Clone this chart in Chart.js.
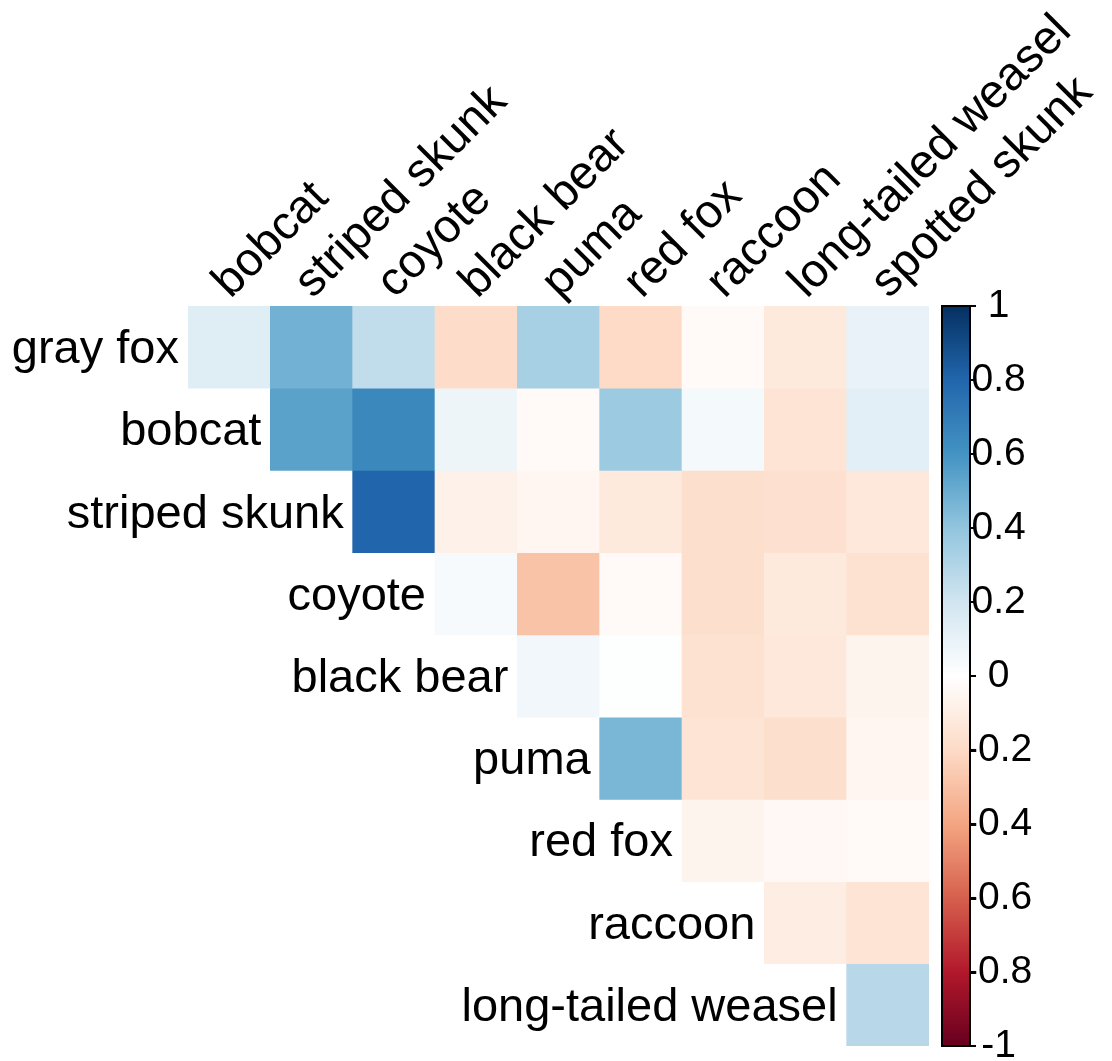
<!DOCTYPE html>
<html>
<head>
<meta charset="utf-8">
<title>Carnivore co-occurrence correlations</title>
<script src="https://cdn.jsdelivr.net/npm/chart.js@4.4.1/dist/chart.umd.min.js"></script>
<style>
  html, body { margin: 0; padding: 0; background: #ffffff; }
  #wrap { width: 1112px; height: 1061px; }
</style>
</head>
<body>
<div id="wrap"><canvas id="corr" width="1112" height="1061"></canvas></div>
<script>
// Species along the top (columns) and down the side (rows) of the upper-triangle matrix
const colSpecies = ['bobcat', 'striped skunk', 'coyote', 'black bear', 'puma', 'red fox', 'raccoon', 'long-tailed weasel', 'spotted skunk'];
const rowSpecies = ['gray fox', 'bobcat', 'striped skunk', 'coyote', 'black bear', 'puma', 'red fox', 'raccoon', 'long-tailed weasel'];

// Pairwise correlations, one array per row species (null = lower triangle, left blank)
const grayFoxCorr      = [0.14, 0.48, 0.25, -0.19, 0.33, -0.20, -0.03, -0.12, 0.10];
const bobcatCorr       = [null, 0.54, 0.65, 0.08, -0.03, 0.37, 0.05, -0.15, 0.12];
const stripedSkunkCorr = [null, null, 0.80, -0.08, -0.05, -0.12, -0.18, -0.17, -0.13];
const coyoteCorr       = [null, null, null, 0.04, -0.29, -0.03, -0.18, -0.12, -0.16];
const blackBearCorr    = [null, null, null, null, 0.06, 0.01, -0.16, -0.13, -0.06];
const pumaCorr         = [null, null, null, null, null, 0.46, -0.15, -0.18, -0.05];
const redFoxCorr       = [null, null, null, null, null, null, -0.06, -0.04, -0.03];
const raccoonCorr      = [null, null, null, null, null, null, null, -0.10, -0.15];
const weaselCorr       = [null, null, null, null, null, null, null, null, 0.28];

const corrRows = [grayFoxCorr, bobcatCorr, stripedSkunkCorr, coyoteCorr, blackBearCorr,
                  pumaCorr, redFoxCorr, raccoonCorr, weaselCorr];

// Colour-bar tick values
const barTicks = [1, 0.8, 0.6, 0.4, 0.2, 0, -0.2, -0.4, -0.6, -0.8, -1];

// Diverging red-blue palette from -1 to 1
const paletteStops = ['#67001F', '#B2182B', '#D6604D', '#F4A582', '#FDDBC7', '#FFFFFF',
                      '#D1E5F0', '#92C5DE', '#4393C3', '#2166AC', '#053061'];

function hexToRgb(h) {
  return [parseInt(h.slice(1, 3), 16), parseInt(h.slice(3, 5), 16), parseInt(h.slice(5, 7), 16)];
}
function corrColor(v) {
  const t = (Math.max(-1, Math.min(1, v)) + 1) / 2 * (paletteStops.length - 1);
  const i = Math.min(Math.floor(t), paletteStops.length - 2);
  const f = t - i;
  const a = hexToRgb(paletteStops[i]), b = hexToRgb(paletteStops[i + 1]);
  const c = a.map((x, k) => Math.round(x + (b[k] - x) * f));
  return 'rgb(' + c.join(',') + ')';
}

const FONT = '"Liberation Sans", Arial, Helvetica, sans-serif';
const LABEL_SIZE = 47;

// One floating-bar dataset per row: each cell spans [row-0.5, row+0.5] on the row axis
const datasets = corrRows.map((vals, r) => ({
  label: rowSpecies[r],
  data: vals.map(v => (v === null ? null : [r - 0.5, r + 0.5])),
  backgroundColor: vals.map(v => (v === null ? 'rgba(0,0,0,0)' : corrColor(v))),
  borderWidth: 0,
  barPercentage: 1,
  categoryPercentage: 1,
  grouped: false
}));

// Row names sit just left of each row's first (diagonal) cell
const rowLabelPlugin = {
  id: 'rowLabels',
  afterDatasetsDraw(chart) {
    const { ctx, scales } = chart;
    const xs = scales.x, ys = scales.y;
    const cellW = xs.getPixelForValue(1) - xs.getPixelForValue(0);
    ctx.save();
    ctx.font = LABEL_SIZE + 'px ' + FONT;
    ctx.fillStyle = '#000000';
    ctx.textAlign = 'right';
    ctx.textBaseline = 'middle';
    rowSpecies.forEach((name, r) => {
      const x = xs.getPixelForValue(r) - cellW / 2 - 9;
      const y = ys.getPixelForValue(r) + 3;
      ctx.fillText(name, x, y);
    });
    ctx.restore();
  }
};

// Gradient colour bar drawn alongside the right-hand legend scale
const colorBarPlugin = {
  id: 'colorBar',
  afterDraw(chart) {
    const { ctx } = chart;
    const s = chart.scales.legend;
    const top = s.getPixelForValue(1), bottom = s.getPixelForValue(-1);
    const x0 = chart.chartArea.right + 13, x1 = x0 + 28;
    ctx.save();
    const g = ctx.createLinearGradient(0, bottom, 0, top);
    paletteStops.forEach((c, i) => g.addColorStop(i / (paletteStops.length - 1), c));
    ctx.fillStyle = g;
    ctx.fillRect(x0, top, x1 - x0, bottom - top);
    ctx.strokeStyle = '#000000';
    ctx.lineWidth = 2;
    ctx.strokeRect(x0, top, x1 - x0, bottom - top);
    ctx.beginPath();
    barTicks.forEach(v => {
      const y = s.getPixelForValue(v);
      ctx.moveTo(x1, y);
      ctx.lineTo(x1 + 6, y);
    });
    ctx.stroke();
    ctx.restore();
  }
};

new Chart(document.getElementById('corr'), {
  type: 'bar',
  data: { labels: colSpecies, datasets },
  options: {
    responsive: false,
    devicePixelRatio: 1,
    animation: false,
    events: [],
    layout: { padding: { left: 188, right: 0, top: 0, bottom: 15 } },
    plugins: { legend: { display: false }, tooltip: { enabled: false } },
    scales: {
      x: {
        type: 'category',
        position: 'top',
        offset: true,
        grid: { display: false, drawTicks: false },
        border: { display: false },
        ticks: {
          autoSkip: false,
          minRotation: 45,
          maxRotation: 45,
          padding: -4,
          labelOffset: 32,
          color: '#000000',
          font: { family: FONT, size: LABEL_SIZE }
        },
        afterFit(scale) {
          scale.height = 306;
          scale.paddingLeft = 0;
          scale.paddingRight = 0;
        }
      },
      y: {
        type: 'linear',
        reverse: true,
        min: -0.5,
        max: 8.5,
        display: false
      },
      legend: {
        type: 'linear',
        position: 'right',
        min: -1,
        max: 1,
        grid: { display: false, drawTicks: false },
        border: { display: false },
        afterBuildTicks(scale) {
          scale.ticks = barTicks.map(v => ({ value: v }));
        },
        ticks: {
          crossAlign: 'center',
          padding: 36,
          color: '#000000',
          font: { family: FONT, size: 39 },
          callback: v => String(Math.round(v * 10) / 10)
        },
        afterFit(scale) {
          scale.width = 183;
          scale.paddingTop = 0;
          scale.paddingBottom = 0;
        }
      }
    }
  },
  plugins: [rowLabelPlugin, colorBarPlugin]
});
</script>
</body>
</html>
